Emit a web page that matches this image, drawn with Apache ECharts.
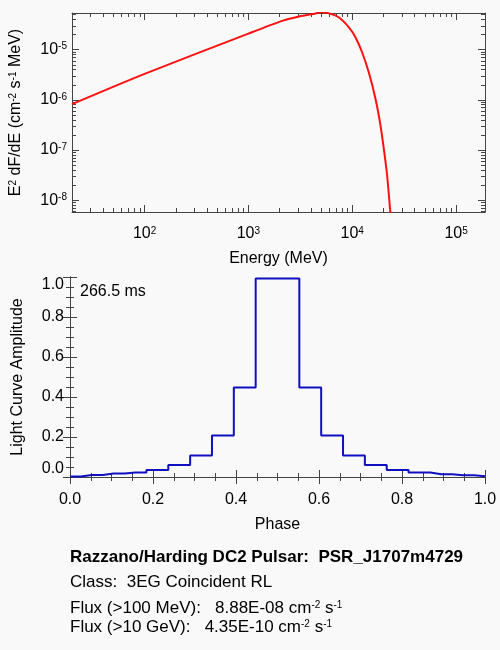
<!DOCTYPE html>
<html>
  <head>
    <meta charset="utf-8" />
    <title>DC2 Pulsar</title>
    <script src="https://cdn.jsdelivr.net/npm/echarts@6.0.0/dist/echarts.min.js"></script>
    <style>
      body { margin: 0; background: #f9f9f9; }
      #chart { width: 500px; height: 650px; }
    </style>
  </head>
<body>
  <div id="chart"></div>

  <script type="text/javascript">
// spectrum, E^2 dF/dE vs energy
var energy = [20, 100, 1000, 2150, 3080, 4450, 5000, 5980, 7460, 9290, 10770, 12470, 14450, 16750, 18710, 20140, 21680, 23280, 25000];
var e2dfde = [8.2e-7, 3.3e-6, 2.1e-5, 3.8e-5, 4.6e-5, 5.3e-5, 5.6e-5, 5.3e-5, 4.4e-5, 2.8e-5, 1.76e-5, 8.8e-6, 3.5e-6, 1.05e-6, 3.1e-7, 1.06e-7, 3.1e-8, 5.8e-9, 1.2e-9];

// light curve, bin centres and amplitudes
var phase = [0, 0.0526, 0.1053, 0.1579, 0.2105, 0.2632, 0.3158, 0.3684, 0.4211, 0.4737,
             0.5263, 0.5789, 0.6316, 0.6842, 0.7368, 0.7895, 0.8421, 0.8947, 0.9474, 1.0];
var amplitude = [0.003, 0.010, 0.017, 0.023, 0.035, 0.060, 0.107, 0.207, 0.447, 0.993,
                 0.993, 0.447, 0.207, 0.107, 0.060, 0.035, 0.022, 0.014, 0.009, 0.004];

var font = 'Liberation Sans';
var axisCol = '#444';

function pairs(xs, ys) {
  return xs.map(function (x, i) { return [x, ys[i]]; });
}

var supRich = {
  b: { fontFamily: font, fontSize: 16, color: '#000' },
  sup: { fontFamily: font, fontSize: 10, color: '#000', verticalAlign: 'top' }
};
var textRich = {
  b: { fontFamily: font, fontSize: 17, color: '#000' },
  sup: { fontFamily: font, fontSize: 10, color: '#000', verticalAlign: 'top' }
};

function powLabel(v) {
  var e = Math.round(Math.log10(v));
  return '{b|10}{sup|' + e + '}';
}

function boxAxis(extra) {
  var a = {
    axisLine: { show: true, lineStyle: { color: axisCol, width: 1 } },
    axisTick: { show: true, inside: true, length: 7, lineStyle: { color: axisCol } },
    minorTick: { show: true, length: 4, lineStyle: { color: axisCol } },
    splitLine: { show: false },
    minorSplitLine: { show: false }
  };
  for (var k in extra) a[k] = extra[k];
  return a;
}

var nameStyle = { fontFamily: font, fontSize: 16, color: '#000' };

var chart = echarts.init(document.getElementById('chart'));

var option = {
  backgroundColor: '#f9f9f9',
  animation: false,
  textStyle: { fontFamily: font },
  grid: [
    { left: 70, right: 15, top: 13, height: 199 },
    { left: 70, right: 15, top: 277, height: 200 }
  ],
  xAxis: [
    boxAxis({
      type: 'log', gridIndex: 0, min: 20, max: 1.9e5, logBase: 10,
      minorTick: { show: true, splitNumber: 9, length: 4, lineStyle: { color: axisCol } },
      axisLabel: { formatter: powLabel, rich: supRich, margin: 14, showMinLabel: false, showMaxLabel: false },
      name: 'Energy (MeV)', nameLocation: 'middle', nameGap: 39,
      nameTextStyle: nameStyle
    }),
    boxAxis({
      type: 'log', gridIndex: 0, position: 'top', min: 20, max: 1.9e5, logBase: 10,
      minorTick: { show: true, splitNumber: 9, length: 4, lineStyle: { color: axisCol } },
      axisLabel: { show: false }
    }),
    boxAxis({
      type: 'value', gridIndex: 1, min: 0, max: 1, interval: 0.2,
      minorTick: { show: true, splitNumber: 4, length: 4, lineStyle: { color: axisCol } },
      axisLabel: { fontFamily: font, fontSize: 16, color: '#000', margin: 15,
        formatter: function (v) { return v.toFixed(1); } },
      name: 'Phase', nameLocation: 'middle', nameGap: 40,
      nameTextStyle: nameStyle
    }),
    boxAxis({
      type: 'value', gridIndex: 1, position: 'top', min: 0, max: 1, interval: 0.2,
      minorTick: { show: true, splitNumber: 4, length: 4, lineStyle: { color: axisCol } },
      axisLabel: { show: false }
    })
  ],
  yAxis: [
    boxAxis({
      type: 'log', gridIndex: 0, min: 5.8e-9, max: 5.4e-5, logBase: 10,
      minorTick: { show: true, splitNumber: 9, length: 4, lineStyle: { color: axisCol } },
      axisLabel: { formatter: powLabel, rich: supRich, margin: 5, showMinLabel: false, showMaxLabel: false },
      name: 'E{sup|2} dF/dE (cm{sup|-2} s{sup|-1} MeV)', nameLocation: 'middle', nameGap: 48,
      nameTextStyle: { fontFamily: font, fontSize: 16, color: '#000', rich: supRich }
    }),
    boxAxis({
      type: 'log', gridIndex: 0, position: 'right', min: 5.8e-9, max: 5.4e-5, logBase: 10,
      minorTick: { show: true, splitNumber: 9, length: 4, lineStyle: { color: axisCol } },
      axisLabel: { show: false }
    }),
    boxAxis({
      type: 'value', gridIndex: 1, min: 0, max: 1, interval: 0.2,
      minorTick: { show: true, splitNumber: 4, length: 4, lineStyle: { color: axisCol } },
      axisLabel: { fontFamily: font, fontSize: 16, color: '#000', margin: 6,
        verticalAlignMinLabel: 'bottom', verticalAlignMaxLabel: 'top',
        formatter: function (v) { return v.toFixed(1); } },
      name: 'Light Curve Amplitude', nameLocation: 'middle', nameGap: 44,
      nameTextStyle: nameStyle
    }),
    boxAxis({
      type: 'value', gridIndex: 1, position: 'right', min: 0, max: 1, interval: 0.2,
      minorTick: { show: true, splitNumber: 4, length: 4, lineStyle: { color: axisCol } },
      axisLabel: { show: false }
    })
  ],
  series: [
    {
      name: 'Spectrum', type: 'line', xAxisIndex: 0, yAxisIndex: 0,
      data: pairs(energy, e2dfde), showSymbol: false, clip: true, smooth: 0.25,
      lineStyle: { color: '#ff1010', width: 2 }
    },
    {
      name: 'Light curve', type: 'line', xAxisIndex: 2, yAxisIndex: 2,
      data: pairs(phase, amplitude), step: 'middle', showSymbol: false, clip: true,
      lineStyle: { color: '#1010c0', width: 2 }
    }
  ],
  graphic: [
    { type: 'text', left: 80, top: 284,
      style: { text: '266.5 ms', fontFamily: font, fontSize: 16, fill: '#000' } },
    { type: 'text', left: 70, top: 549,
      style: { text: 'Razzano/Harding DC2 Pulsar:  PSR_J1707m4729', fontFamily: font,
        fontSize: 17, fontWeight: 'bold', fill: '#000' } },
    { type: 'text', left: 70, top: 574,
      style: { text: 'Class:  3EG Coincident RL', fontFamily: font, fontSize: 17, fill: '#000' } },
    { type: 'text', left: 70, top: 600,
      style: { text: '{b|Flux (>100 MeV):   8.88E-08 cm}{sup|-2}{b| s}{sup|-1}', rich: textRich } },
    { type: 'text', left: 70, top: 619,
      style: { text: '{b|Flux (>10 GeV):   4.35E-10 cm}{sup|-2}{b| s}{sup|-1}', rich: textRich } }
  ]
};

chart.setOption(option);
</script>
</body>
</html>
